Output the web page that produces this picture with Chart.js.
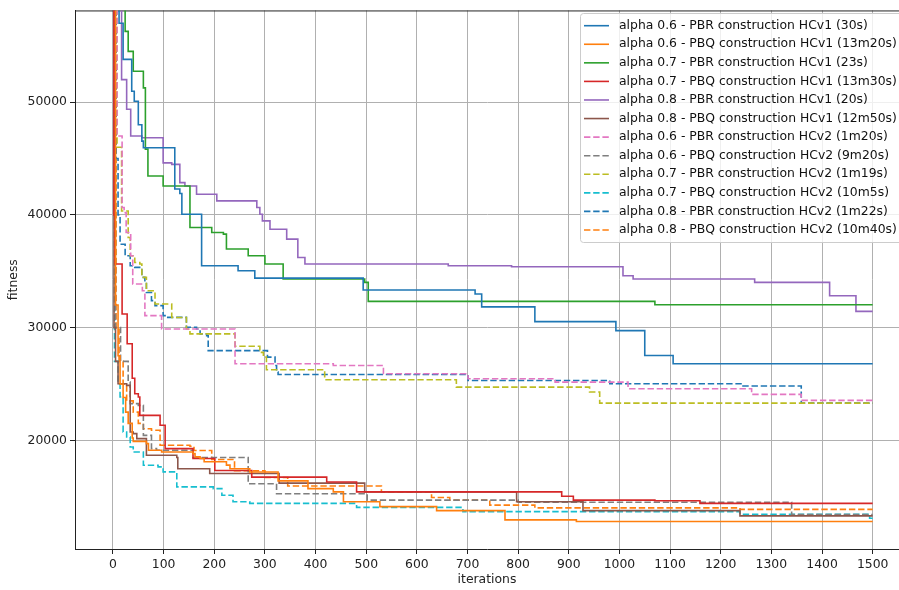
<!DOCTYPE html>
<html>
<head>
<meta charset="utf-8">
<script src="https://cdn.jsdelivr.net/npm/chart.js@4.4.1/dist/chart.umd.min.js"></script>
<style>
  html, body { margin: 0; padding: 0; background: #fff; }
  #wrap { width: 899px; height: 590px; }
</style>
</head>
<body>
<div id="wrap"><canvas id="myChart" width="899" height="590"></canvas></div>
<script>
// Tick labels
const xTicks = [0, 100, 200, 300, 400, 500, 600, 700, 800, 900, 1000, 1100, 1200, 1300, 1400, 1500];
const yTicks = [20000, 30000, 40000, 50000];

// Each series: [iteration, fitness] at every change of the best fitness
const a06PbrV1 = [[0, 80000], [5, 62000], [12, 57000], [20, 53800], [37, 50970], [42, 50090], [50, 48000], [57, 46550], [60, 45960], [122, 42300], [132, 41900], [136, 40060], [175, 35490], [247, 35050], [280, 34390], [494, 33330], [715, 32980], [728, 31840], [833, 30530], [993, 29730], [1050, 27520], [1106, 26790], [1500, 26790]];
const a06PbqV1 = [[0, 80000], [5, 32000], [10, 27500], [14, 25000], [20, 23800], [25, 22500], [30, 21500], [38, 20200], [40, 19900], [66, 19700], [70, 19110], [96, 18960], [158, 18820], [162, 18530], [172, 18380], [180, 18090], [224, 17800], [231, 17480], [270, 17180], [326, 16400], [385, 15710], [435, 15420], [455, 14550], [527, 14110], [639, 13760], [774, 12940], [915, 12790], [1500, 12790]];
const a07PbrV1 = [[0, 80000], [17, 60000], [24, 56280], [30, 54510], [40, 52740], [60, 51270], [64, 45840], [69, 43450], [99, 42570], [152, 38880], [195, 38440], [218, 38290], [224, 36970], [267, 36370], [300, 35640], [336, 34310], [497, 34010], [504, 32330], [1070, 32030], [1500, 32030]];
const a07PbqV1 = [[0, 80000], [2, 40000], [4, 35640], [18, 31210], [28, 28560], [38, 25500], [43, 24130], [50, 23840], [53, 22210], [93, 21330], [103, 19260], [158, 18380], [201, 17320], [274, 16730], [422, 16300], [481, 15420], [886, 15040], [909, 14690], [1070, 14630], [1159, 14400], [1500, 14400]];
const a08PbrV1 = [[0, 80000], [10, 60000], [17, 52000], [27, 49380], [35, 47000], [57, 46840], [99, 44620], [116, 44480], [132, 42860], [142, 42570], [165, 41830], [205, 41240], [284, 40650], [290, 40060], [295, 39470], [310, 38730], [343, 37850], [365, 36220], [379, 35640], [662, 35490], [787, 35400], [1007, 34600], [1027, 34310], [1267, 34010], [1415, 32830], [1467, 31440], [1500, 31440]];
const a08PbqV1 = [[0, 80000], [2, 30000], [5, 27000], [10, 25020], [27, 24870], [34, 20740], [40, 20590], [47, 20150], [66, 18670], [126, 18470], [128, 17480], [191, 17050], [328, 16200], [497, 15420], [797, 14550], [928, 13760], [1238, 13290], [1500, 13290]];
const a06PbrV2 = [[0, 80000], [8, 47000], [18, 40650], [22, 40200], [26, 38440], [35, 36370], [39, 33870], [58, 33270], [63, 31060], [96, 29880], [241, 26790], [435, 26640], [534, 25900], [701, 25460], [873, 25160], [1017, 24570], [1261, 24070], [1359, 23540], [1500, 23540]];
const a06PbqV2 = [[0, 80000], [5, 30000], [15, 27000], [30, 25170], [34, 23250], [50, 23100], [60, 20440], [76, 19260], [86, 19110], [158, 18470], [267, 16150], [323, 15250], [502, 14690], [800, 14500], [1340, 13400], [1500, 13400]];
const a07PbrV2 = [[0, 80000], [8, 46000], [17, 40350], [30, 37990], [34, 36370], [43, 35780], [53, 35640], [57, 34460], [66, 33270], [83, 32100], [116, 30900], [145, 29880], [152, 29440], [241, 28350], [290, 27800], [297, 27380], [303, 26260], [418, 25370], [678, 24720], [941, 24280], [961, 23300], [1500, 23300]];
const a07PbqV2 = [[0, 80000], [3, 27000], [10, 25000], [14, 23840], [20, 20740], [27, 20300], [34, 19410], [40, 18960], [60, 17780], [89, 17640], [99, 17200], [126, 15870], [198, 15710], [215, 15130], [237, 14550], [270, 14400], [481, 14050], [691, 13670], [1238, 13430], [1494, 13080], [1500, 13080]];
const a08PbrV2 = [[0, 80000], [6, 45000], [10, 40000], [14, 37400], [24, 36370], [34, 35490], [43, 35340], [57, 34460], [63, 34160], [66, 33120], [76, 32390], [83, 31950], [99, 31060], [106, 30910], [145, 30030], [165, 29880], [172, 29440], [185, 29290], [188, 27960], [305, 27380], [320, 26640], [323, 26050], [326, 25840], [701, 25310], [981, 25020], [1244, 24820], [1359, 23300], [1500, 23300]];
const a08PbqV2 = [[0, 80000], [6, 30000], [12, 27000], [20, 25000], [27, 23500], [40, 22500], [50, 21500], [60, 21030], [76, 20890], [93, 19560], [152, 19470], [160, 19100], [195, 18300], [240, 17300], [300, 16700], [345, 15950], [530, 15420], [629, 14930], [665, 14690], [744, 14250], [833, 14000], [1238, 13870], [1500, 13870]];

const seriesData = [a06PbrV1, a06PbqV1, a07PbrV1, a07PbqV1, a08PbrV1, a08PbqV1,
                    a06PbrV2, a06PbqV2, a07PbrV2, a07PbqV2, a08PbrV2, a08PbqV2];
const seriesLabels = [
    'alpha 0.6 - PBR construction HCv1 (30s)',
    'alpha 0.6 - PBQ construction HCv1 (13m20s)',
    'alpha 0.7 - PBR construction HCv1 (23s)',
    'alpha 0.7 - PBQ construction HCv1 (13m30s)',
    'alpha 0.8 - PBR construction HCv1 (20s)',
    'alpha 0.8 - PBQ construction HCv1 (12m50s)',
    'alpha 0.6 - PBR construction HCv2 (1m20s)',
    'alpha 0.6 - PBQ construction HCv2 (9m20s)',
    'alpha 0.7 - PBR construction HCv2 (1m19s)',
    'alpha 0.7 - PBQ construction HCv2 (10m5s)',
    'alpha 0.8 - PBR construction HCv2 (1m22s)',
    'alpha 0.8 - PBQ construction HCv2 (10m40s)'
];
const seriesColors = ['#1f77b4', '#ff7f0e', '#2ca02c', '#d62728', '#9467bd', '#8c564b',
                      '#e377c2', '#7f7f7f', '#bcbd22', '#17becf', '#1f77b4', '#ff7f0e'];

const FONT = { family: '"DejaVu Sans", sans-serif', size: 12.4 };

// Legend drawn inside the plot, like matplotlib's
const legendBox = {
    id: 'legendBox',
    afterDraw(chart) {
        const ctx = chart.ctx;
        ctx.save();
        ctx.beginPath();
        ctx.roundRect(580.5, 13.5, 330, 229, 3);
        ctx.fillStyle = 'rgba(255,255,255,0.8)';
        ctx.fill();
        ctx.strokeStyle = '#cccccc';
        ctx.lineWidth = 1;
        ctx.stroke();
        ctx.font = `${FONT.size}px ${FONT.family}`;
        ctx.textBaseline = 'middle';
        chart.data.datasets.forEach((ds, i) => {
            const y = 25.7 + i * 18.57;
            ctx.strokeStyle = ds.borderColor;
            ctx.lineWidth = ds.borderWidth;
            ctx.setLineDash(ds.borderDash || []);
            ctx.beginPath();
            ctx.moveTo(584, y);
            ctx.lineTo(609, y);
            ctx.stroke();
            ctx.setLineDash([]);
            ctx.fillStyle = '#111';
            ctx.fillText(ds.label, 619, y);
        });
        ctx.restore();
    }
};

// Top spine
const topSpine = {
    id: 'topSpine',
    beforeDatasetsDraw(chart) {
        const { ctx, chartArea } = chart;
        ctx.save();
        ctx.strokeStyle = '#222';
        ctx.lineWidth = 1;
        ctx.beginPath();
        ctx.moveTo(chartArea.left, chartArea.top + 0.5);
        ctx.lineTo(chartArea.right, chartArea.top + 0.5);
        ctx.stroke();
        ctx.restore();
    }
};

const plainNumber = v => String(v);

const ctx = document.getElementById('myChart').getContext('2d');
new Chart(ctx, {
    type: 'line',
    data: {
        datasets: seriesData.map((pts, i) => ({
            label: seriesLabels[i],
            data: pts.map(p => ({ x: p[0], y: p[1] })),
            borderColor: seriesColors[i],
            borderWidth: 1.6,
            borderDash: i >= 6 ? [6.4, 2.8] : [],
            stepped: true,
            pointRadius: 0,
            fill: false
        }))
    },
    options: {
        responsive: false,
        animation: false,
        devicePixelRatio: 1,
        layout: { padding: { top: 9, right: 0, left: 0, bottom: 0 } },
        plugins: { legend: { display: false }, tooltip: { enabled: false } },
        scales: {
            x: {
                type: 'linear',
                min: -75,
                max: 1552,
                afterBuildTicks: s => { s.ticks = xTicks.map(v => ({ value: v })); },
                afterFit: s => { s.height = 41; },
                ticks: { autoSkip: false, maxRotation: 0, padding: 3, color: '#222', font: FONT, callback: plainNumber },
                grid: { color: '#b0b0b0', lineWidth: 1, tickLength: 5, tickColor: '#222' },
                border: { color: '#222', width: 1 },
                title: { display: true, text: 'iterations', color: '#222', font: FONT, padding: { top: 0, bottom: 2.6 } }
            },
            y: {
                type: 'linear',
                min: 10354,
                max: 58142,
                afterBuildTicks: s => { s.ticks = yTicks.map(v => ({ value: v })); },
                afterFit: s => { s.width = 75; },
                ticks: { padding: 3, color: '#222', font: FONT, callback: plainNumber },
                grid: { color: '#b0b0b0', lineWidth: 1, tickLength: 5, tickColor: '#222' },
                border: { color: '#222', width: 1 },
                title: { display: true, text: 'fitness', color: '#222', font: FONT, padding: { top: 6.6, bottom: 0 } }
            }
        }
    },
    plugins: [topSpine, legendBox]
});
</script>
</body>
</html>
